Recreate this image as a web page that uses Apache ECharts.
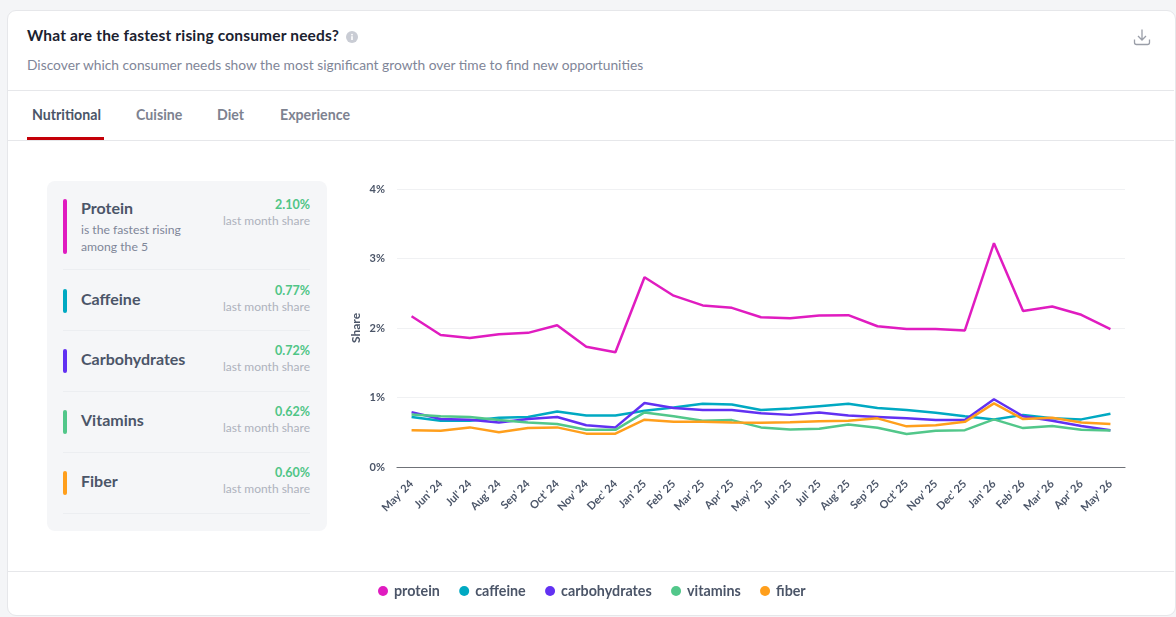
<!DOCTYPE html>
<html>
<head>
<meta charset="utf-8">
<script src="https://cdn.jsdelivr.net/npm/echarts@6/dist/echarts.min.js"></script>
<style>
  html, body { margin: 0; padding: 0; width: 1176px; height: 617px; overflow: hidden; background: #f4f5f7; font-family: Lato, "Noto Sans", sans-serif; }
  .abs { position: absolute; white-space: nowrap; }
  #card { position: absolute; left: 7px; top: 10px; width: 1167px; height: 604px; background: #fff; border: 1px solid #e6e7ea; border-radius: 9px; }
  .rule { position: absolute; height: 1px; background: #e6e7ea; }
  #title { left: 27px; top: 26px; font-size: 15.5px; line-height: 18px; font-weight: 700; color: #1b2230; letter-spacing: .17px; }
  #subtitle { left: 27px; top: 56px; font-size: 13.8px; line-height: 18px; color: #7f8698; }
  .tab { top: 106px; font-size: 14.2px; line-height: 18px; font-weight: 700; color: #7d8290; }
  .tab.on { color: #4b5568; }
  #underline { position: absolute; left: 27px; top: 137px; width: 77px; height: 3px; background: #c40008; }
  #panel { position: absolute; left: 47px; top: 181px; width: 280px; height: 350px; background: #f5f6f8; border-radius: 8px; }
  .bar { position: absolute; left: 63px; width: 4px; border-radius: 2px; }
  .sep { position: absolute; left: 63px; width: 247px; height: 1px; background: #eceef1; }
  .name { left: 81px; font-size: 16px; line-height: 18px; font-weight: 700; color: #4b5568; }
  .sub { left: 81px; font-size: 12.2px; line-height: 17px; color: #7f8698; }
  .val { right: 866px; font-size: 12.5px; line-height: 16px; font-weight: 700; color: #4fc586; }
  .cap { right: 866px; font-size: 12px; line-height: 16px; color: #aeb2bd; }
  #chart { position: absolute; left: 0; top: 0; width: 1176px; height: 617px; }
</style>
</head>
<body>
<div id="card"></div>
<div class="rule" style="left:8px;width:1166px;top:90px"></div>
<div class="rule" style="left:8px;width:1166px;top:140px"></div>
<div class="rule" style="left:8px;width:1166px;top:571px"></div>
<div id="title" class="abs">What are the fastest rising consumer needs?</div>
<svg class="abs" style="left:346px;top:31px" width="12" height="12" viewBox="0 0 12 12">
  <circle cx="6" cy="6" r="6" fill="#c9ccd4"/>
  <rect x="5.2" y="5.2" width="1.6" height="3.8" fill="#fff"/>
  <rect x="5.2" y="2.9" width="1.6" height="1.5" fill="#fff"/>
</svg>
<div id="subtitle" class="abs">Discover which consumer needs show the most significant growth over time to find new opportunities</div>
<svg class="abs" style="left:1133px;top:28px" width="18" height="18" viewBox="0 0 18 18" fill="none" stroke="#9a9ea8" stroke-width="1.3">
  <path d="M9 1.5V11.5M5 8l4 4 4-4"/>
  <path d="M1.5 11.5v3a2 2 0 0 0 2 2h11a2 2 0 0 0 2-2v-3"/>
</svg>
<div class="abs tab on" style="left:32px">Nutritional</div>
<div class="abs tab" style="left:136px">Cuisine</div>
<div class="abs tab" style="left:217px">Diet</div>
<div class="abs tab" style="left:280px">Experience</div>
<div id="underline"></div>
<div id="panel"></div>
<div id="rows"></div>
<div id="chart"></div>
<script>
// Month labels along the time axis
const months = ["May' 24","Jun' 24","Jul' 24","Aug' 24","Sep' 24","Oct' 24","Nov' 24","Dec' 24",
  "Jan' 25","Feb' 25","Mar' 25","Apr' 25","May' 25","Jun' 25","Jul' 25","Aug' 25","Sep' 25","Oct' 25","Nov' 25","Dec' 25",
  "Jan' 26","Feb' 26","Mar' 26","Apr' 26","May' 26"];

// Monthly share of each consumer need, in percent
const protein = [2.17,1.90,1.855,1.91,1.93,2.04,1.73,1.65,2.73,2.465,2.325,2.29,2.155,2.14,2.18,2.185,2.025,1.985,1.985,1.965,3.22,2.245,2.31,2.19,1.985];
const caffeine = [0.72,0.665,0.665,0.71,0.72,0.80,0.74,0.74,0.81,0.855,0.91,0.90,0.82,0.84,0.875,0.91,0.85,0.82,0.78,0.73,0.685,0.75,0.70,0.685,0.765];
const carbohydrates = [0.79,0.69,0.68,0.64,0.69,0.72,0.60,0.57,0.92,0.85,0.82,0.82,0.775,0.75,0.785,0.74,0.72,0.70,0.675,0.675,0.975,0.73,0.665,0.59,0.53];
const vitamins = [0.755,0.73,0.72,0.675,0.64,0.62,0.535,0.535,0.785,0.73,0.665,0.675,0.57,0.54,0.55,0.61,0.565,0.475,0.52,0.53,0.685,0.56,0.59,0.535,0.525];
const fiber = [0.53,0.52,0.57,0.50,0.56,0.57,0.48,0.48,0.68,0.65,0.65,0.64,0.636,0.645,0.66,0.665,0.70,0.585,0.60,0.65,0.915,0.69,0.71,0.64,0.62];

const seriesNames = ["protein","caffeine","carbohydrates","vitamins","fiber"];
const seriesValues = [protein, caffeine, carbohydrates, vitamins, fiber];
const seriesColors = ["#e01cc0","#00a9c2","#6231f2","#52c78a","#ff9f1c"];

// Sidebar summary
const rowNames = ["Protein","Caffeine","Carbohydrates","Vitamins","Fiber"];
const rowShares = ["2.10%","0.77%","0.72%","0.62%","0.60%"];
const rowTops = [199, 289, 349, 410, 471];
const rowHeights = [55, 24, 24, 24, 24];
const sepTops = [269, 330, 391, 452, 513];

const rows = document.getElementById('rows');
let html = '';
rowNames.forEach((name, i) => {
  const top = rowTops[i], first = i === 0;
  html += `<div class="bar" style="top:${top}px;height:${rowHeights[i]}px;background:${seriesColors[i]}"></div>`;
  html += `<div class="abs name" style="top:${first ? top : top + 1}px">${name}</div>`;
  html += `<div class="abs val" style="top:${first ? top - 2 : top - 6}px">${rowShares[i]}</div>`;
  html += `<div class="abs cap" style="top:${first ? top + 14 : top + 10}px">last month share</div>`;
  html += `<div class="sep" style="top:${sepTops[i]}px"></div>`;
});
html += `<div class="abs sub" style="top:221px">is the fastest rising</div>`;
html += `<div class="abs sub" style="top:238px">among the 5</div>`;
rows.innerHTML = html;

const chart = echarts.init(document.getElementById('chart'), null, { renderer: 'canvas' });
chart.setOption({
  animation: false,
  backgroundColor: 'transparent',
  color: seriesColors,
  legend: {
    bottom: 14, left: 373,
    icon: 'circle', itemWidth: 10, itemHeight: 10, itemGap: 19.3,
    selectedMode: false,
    textStyle: { fontFamily: 'Lato', fontSize: 14.3, fontWeight: 700, color: '#4b5568', padding: [0, 0, 0, 1] },
    data: seriesNames
  },
  grid: { left: 397, right: 51, top: 189, bottom: 150, containLabel: false },
  xAxis: {
    type: 'category',
    data: months,
    axisTick: { show: false },
    axisLine: { lineStyle: { color: '#6f7278', width: 1.2 } },
    axisLabel: { interval: 0, rotate: 45, margin: 15, fontFamily: 'Lato', fontSize: 11, fontWeight: 700, color: '#4b5568' }
  },
  yAxis: {
    type: 'value', min: 0, max: 4, interval: 1,
    name: 'Share', nameLocation: 'middle', nameGap: 35, nameMoveOverlap: false,
    nameTextStyle: { fontFamily: 'Lato', fontSize: 12, fontWeight: 700, color: '#4b5568' },
    axisLine: { show: false }, axisTick: { show: false },
    axisLabel: { formatter: '{value}%', margin: 12, fontFamily: 'Lato', fontSize: 11, fontWeight: 700, color: '#4b5568' },
    splitLine: { lineStyle: { color: '#f0f1f3', width: 1 } }
  },
  series: seriesNames.map((name, i) => ({
    name, type: 'line', data: seriesValues[i], symbol: 'none', smooth: false,
    lineStyle: { width: 2.5, color: seriesColors[i] }, itemStyle: { color: seriesColors[i] }
  }))
});
</script>
</body>
</html>
